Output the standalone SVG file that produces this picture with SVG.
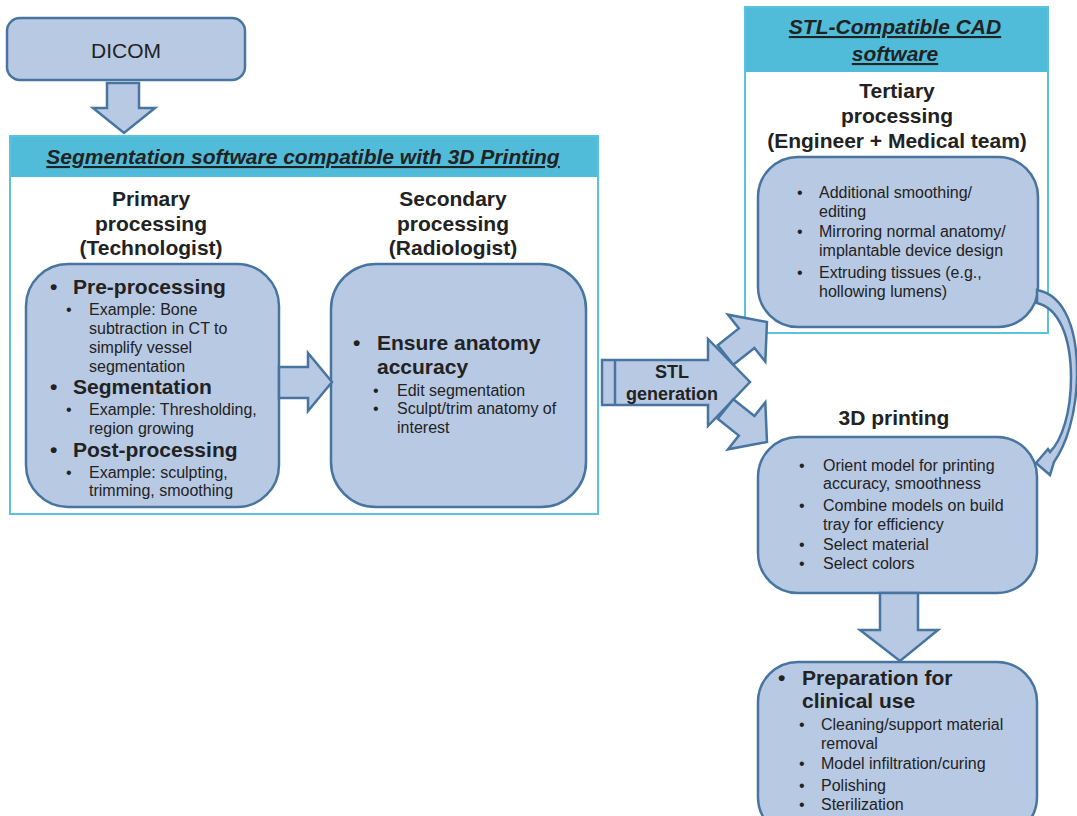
<svg xmlns="http://www.w3.org/2000/svg" width="1077" height="816" viewBox="0 0 1077 816">
<style>
.box{fill:#b8c9e3;stroke:#4775a0;stroke-width:2.5}
.arr{fill:#b8c9e3;stroke:#4775a0;stroke-width:2.5;stroke-linejoin:miter}
.frame{fill:#ffffff;stroke:#5bc2dd;stroke-width:2}
.hdr{fill:#50bcd9}
text{font-family:"Liberation Sans",Arial,sans-serif;fill:#222}
.ht{font-size:21px;font-weight:bold;font-style:italic;text-decoration:underline;text-anchor:middle}
.ti{font-size:21px;font-weight:bold;text-anchor:middle}
.b1{font-size:21px;font-weight:bold}
.b2{font-size:16px}
</style>
<rect width="1077" height="816" fill="#ffffff"/>

<g id="dicom">
<rect class="box" x="7" y="18" width="238" height="62" rx="13"/>
<text x="126" y="58" style="font-size:21px;text-anchor:middle">DICOM</text>
</g>

<g id="segmentation-software">
<rect class="frame" x="10" y="136" width="588" height="378"/>
<rect class="hdr" x="11" y="137" width="586" height="40"/>
<text class="ht" x="303" y="164">Segmentation software compatible with 3D Printing</text>
</g>

<g id="primary">
<text class="ti" x="151" y="206">Primary</text>
<text class="ti" x="151" y="231">processing</text>
<text class="ti" x="151" y="255">(Technologist)</text>
<rect class="box" x="26" y="264" width="253" height="243" rx="42"/>
<text class="b1" x="50" y="294">•</text><text class="b1" x="73" y="294">Pre-processing</text>
<text class="b2" x="66" y="315">•</text><text class="b2" x="89" y="315">Example: Bone</text>
<text class="b2" x="89" y="334">subtraction in CT to</text>
<text class="b2" x="89" y="353">simplify vessel</text>
<text class="b2" x="89" y="372">segmentation</text>
<text class="b1" x="50" y="394">•</text><text class="b1" x="73" y="394">Segmentation</text>
<text class="b2" x="66" y="415">•</text><text class="b2" x="89" y="415">Example: Thresholding,</text>
<text class="b2" x="89" y="434">region growing</text>
<text class="b1" x="50" y="457">•</text><text class="b1" x="73" y="457">Post-processing</text>
<text class="b2" x="66" y="478">•</text><text class="b2" x="89" y="478">Example: sculpting,</text>
<text class="b2" x="89" y="496">trimming, smoothing</text>
</g>

<g id="secondary">
<text class="ti" x="453" y="206">Secondary</text>
<text class="ti" x="453" y="231">processing</text>
<text class="ti" x="453" y="255">(Radiologist)</text>
<rect class="box" x="331" y="264" width="255" height="243" rx="45"/>
<text class="b1" x="353" y="350">•</text><text class="b1" x="377" y="350">Ensure anatomy</text>
<text class="b1" x="377" y="374">accuracy</text>
<text class="b2" x="373" y="396">•</text><text class="b2" x="397" y="396">Edit segmentation</text>
<text class="b2" x="373" y="414">•</text><text class="b2" x="397" y="414">Sculpt/trim anatomy of</text>
<text class="b2" x="397" y="433">interest</text>
</g>

<g id="cad-software">
<rect class="frame" x="745" y="7" width="303" height="326"/>
<rect class="hdr" x="746" y="8" width="301" height="64"/>
<text class="ht" x="895" y="34">STL-Compatible CAD</text>
<text class="ht" x="895" y="61">software</text>
</g>

<g id="tertiary">
<text class="ti" x="897" y="98">Tertiary</text>
<text class="ti" x="897" y="123">processing</text>
<text class="ti" x="897" y="148">(Engineer + Medical team)</text>
<rect class="box" x="758" y="157" width="280" height="170" rx="40"/>
<text class="b2" x="797" y="198">•</text><text class="b2" x="819" y="198">Additional smoothing/</text>
<text class="b2" x="819" y="217">editing</text>
<text class="b2" x="797" y="237">•</text><text class="b2" x="819" y="237">Mirroring normal anatomy/</text>
<text class="b2" x="819" y="256">implantable device design</text>
<text class="b2" x="797" y="278">•</text><text class="b2" x="819" y="278">Extruding tissues (e.g.,</text>
<text class="b2" x="819" y="297">hollowing lumens)</text>
</g>

<g id="printing">
<text class="ti" x="894" y="425">3D printing</text>
<rect class="box" x="758" y="437" width="279" height="156" rx="40"/>
<text class="b2" x="799" y="471">•</text><text class="b2" x="823" y="471">Orient model for printing</text>
<text class="b2" x="823" y="489">accuracy, smoothness</text>
<text class="b2" x="799" y="511">•</text><text class="b2" x="823" y="511">Combine models on build</text>
<text class="b2" x="823" y="530">tray for efficiency</text>
<text class="b2" x="799" y="550">•</text><text class="b2" x="823" y="550">Select material</text>
<text class="b2" x="799" y="569">•</text><text class="b2" x="823" y="569">Select colors</text>
</g>

<g id="preparation">
<rect class="box" x="758" y="662" width="279" height="175" rx="40"/>
<text class="b1" x="778" y="685">•</text><text class="b1" x="802" y="685">Preparation for</text>
<text class="b1" x="802" y="708">clinical use</text>
<text class="b2" x="799" y="730">•</text><text class="b2" x="821" y="730">Cleaning/support material</text>
<text class="b2" x="821" y="749">removal</text>
<text class="b2" x="799" y="769">•</text><text class="b2" x="821" y="769">Model infiltration/curing</text>
<text class="b2" x="799" y="791">•</text><text class="b2" x="821" y="791">Polishing</text>
<text class="b2" x="799" y="810">•</text><text class="b2" x="821" y="810">Sterilization</text>
</g>

<g id="connectors">
<polygon class="arr" points="107,83 139,83 139,108 155,108 124,133 93,108 107,108"/>
<polygon class="arr" points="279,367 308,367 308,353 332,382 308,411 308,398 279,398"/>
<g id="stl-generation">
<polygon class="arr" points="602,360 708,360 708,339 750,382 708,426 708,405 602,405"/>
<line x1="615" y1="360" x2="615" y2="405" stroke="#4775a0" stroke-width="2.5"/>
<text x="672" y="378" style="font-size:18px;font-weight:bold;text-anchor:middle">STL</text>
<text x="672" y="400" style="font-size:18px;font-weight:bold;text-anchor:middle">generation</text>
</g>
<polygon class="arr" transform="translate(725.5,355) rotate(-38.5)" points="0,-12.5 27,-12.5 27,-30 53,0 27,30 27,12.5 0,12.5"/>
<polygon class="arr" transform="translate(725.5,409) rotate(38.5)" points="0,-12.5 27,-12.5 27,-30 53,0 27,30 27,12.5 0,12.5"/>
<path class="arr" stroke-width="2" d="M1037,290 C1065,295 1078,330 1077,378 C1076,415 1066,445 1054,462 L1050,475 L1036,463 L1048,449 L1050,452 C1062,440 1071,412 1071,378 C1071,335 1058,308 1037,303 Z"/>
<polygon class="arr" points="880,593 918,593 918,630 938,630 900,661 860,630 880,630"/>
</g>
</svg>
